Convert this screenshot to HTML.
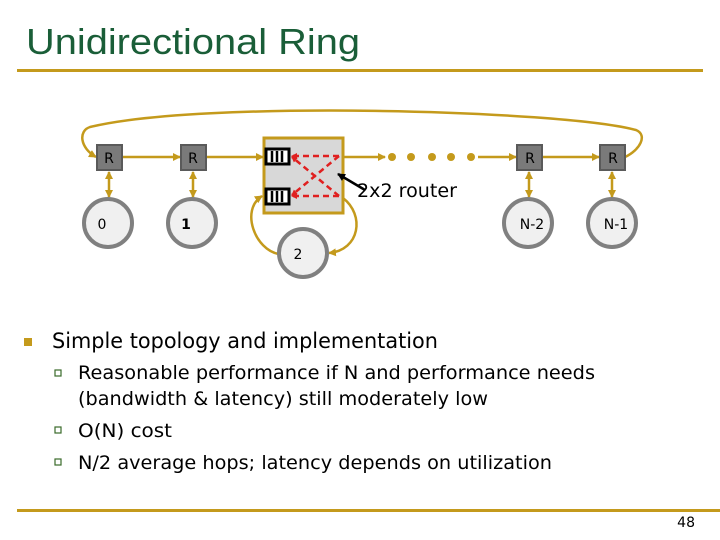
<!DOCTYPE html>
<html><head><meta charset="utf-8"><style>
body{margin:0;background:#fff;}
svg{display:block;}
</style></head><body>
<svg width="720" height="540" viewBox="0 0 720 540" xmlns="http://www.w3.org/2000/svg">
<defs>
<marker id="a" markerWidth="8" markerHeight="8" refX="7" refY="4" orient="auto" markerUnits="userSpaceOnUse"><path d="M0,0 L8,4 L0,8 z" fill="#c49a1c"/></marker>
<marker id="as" markerWidth="8" markerHeight="8" refX="7" refY="4" orient="auto-start-reverse" markerUnits="userSpaceOnUse"><path d="M0,0 L8,4 L0,8 z" fill="#c49a1c"/></marker>
<marker id="r" markerWidth="6" markerHeight="6" refX="5" refY="3" orient="auto" markerUnits="userSpaceOnUse"><path d="M0,0 L6,3 L0,6 z" fill="#e02020"/></marker>
<marker id="k" markerWidth="8" markerHeight="8" refX="7" refY="4" orient="auto" markerUnits="userSpaceOnUse"><path d="M0,0 L8,4 L0,8 z" fill="#000"/></marker>
</defs>
<text x="26" y="54" font-family="Liberation Sans, sans-serif" font-size="36" fill="#1a5e38" textLength="334" lengthAdjust="spacingAndGlyphs">Unidirectional Ring</text>
<rect x="17" y="69" width="686" height="3" fill="#c49a1c"/>
<rect x="17" y="509" width="703" height="3" fill="#c49a1c"/>
<g fill="none" stroke="#c49a1c" stroke-width="2.5">
<path d="M625,157 C640,150 648,135 636,130 C560,110 200,100 90,127 C78,131 80,148 96,157" marker-end="url(#a)"/>
<line x1="122" y1="157" x2="180" y2="157" marker-end="url(#a)"/>
<line x1="206" y1="157" x2="263" y2="157" marker-end="url(#a)"/>
<line x1="343" y1="157" x2="385" y2="157" marker-end="url(#a)"/>
<line x1="478" y1="157" x2="516" y2="157" marker-end="url(#a)"/>
<line x1="542" y1="157" x2="599" y2="157" marker-end="url(#a)"/>
<line x1="109" y1="172" x2="109" y2="197" marker-start="url(#as)" marker-end="url(#a)"/>
<line x1="193" y1="172" x2="193" y2="197" marker-start="url(#as)" marker-end="url(#a)"/>
<line x1="529" y1="172" x2="529" y2="197" marker-start="url(#as)" marker-end="url(#a)"/>
<line x1="612" y1="172" x2="612" y2="197" marker-start="url(#as)" marker-end="url(#a)"/>
<path d="M279,254 C255,250 240,210 262,196" marker-end="url(#a)"/>
<path d="M343,198 C365,215 360,250 329,253" marker-end="url(#a)"/>
</g>
<g fill="#c49a1c"><circle cx="392" cy="157" r="4"/><circle cx="411" cy="157" r="4"/><circle cx="432" cy="157" r="4"/><circle cx="451" cy="157" r="4"/><circle cx="471" cy="157" r="4"/></g>
<g fill="#7a7a7a" stroke="#5a5a5a" stroke-width="2">
<rect x="97" y="145" width="25" height="25"/><rect x="181" y="145" width="25" height="25"/>
<rect x="517" y="145" width="25" height="25"/><rect x="600" y="145" width="25" height="25"/>
</g>
<g font-family="DejaVu Sans, sans-serif" font-size="14" fill="#000" text-anchor="middle">
<text x="109" y="163">R</text><text x="193" y="163">R</text><text x="530" y="163">R</text><text x="613" y="163">R</text>
</g>
<g fill="#f0f0f0" stroke="#808080" stroke-width="4">
<circle cx="108" cy="223" r="24"/><circle cx="192" cy="223" r="24"/><circle cx="303" cy="253" r="24"/>
<circle cx="528" cy="223" r="24"/><circle cx="612" cy="223" r="24"/>
</g>
<g font-family="DejaVu Sans, sans-serif" font-size="14" fill="#000" text-anchor="middle">
<text x="102" y="229">0</text><text x="186" y="229" font-weight="bold">1</text><text x="298" y="259">2</text>
<text x="532" y="229">N-2</text><text x="616" y="229">N-1</text>
</g>
<rect x="264" y="138" width="79" height="75" fill="#d8d8d8" stroke="#c49a1c" stroke-width="3"/>
<g fill="#fff" stroke="#000" stroke-width="3"><rect x="266" y="149" width="23" height="15"/><rect x="266" y="189" width="23" height="15"/></g>
<g stroke="#000" stroke-width="2.5"><line x1="272" y1="151" x2="272" y2="162"/><line x1="277" y1="151" x2="277" y2="162"/><line x1="282" y1="151" x2="282" y2="162"/><line x1="272" y1="191" x2="272" y2="202"/><line x1="277" y1="191" x2="277" y2="202"/><line x1="282" y1="191" x2="282" y2="202"/></g>
<g stroke="#e02020" stroke-width="2.5" stroke-dasharray="6,4" fill="none">
<line x1="339" y1="156" x2="292" y2="156" marker-end="url(#r)"/>
<line x1="339" y1="196" x2="292" y2="196" marker-end="url(#r)"/>
<line x1="339" y1="156" x2="292" y2="195" marker-end="url(#r)"/>
<line x1="339" y1="196" x2="292" y2="157" marker-end="url(#r)"/>
</g>
<line x1="365" y1="190" x2="338" y2="174" stroke="#000" stroke-width="2.5" marker-end="url(#k)"/>
<text x="357" y="197" font-family="DejaVu Sans, sans-serif" font-size="19" fill="#000" textLength="100" lengthAdjust="spacingAndGlyphs">2x2 router</text>
<rect x="24" y="338" width="8" height="8" fill="#c49a1c"/>
<g font-family="DejaVu Sans, sans-serif" font-size="21" fill="#000">
<text x="52" y="348" textLength="386" lengthAdjust="spacingAndGlyphs">Simple topology and implementation</text>
</g>
<g fill="none" stroke="#3a6a2a" stroke-width="1.2">
<rect x="55" y="370" width="6" height="6"/><rect x="55" y="427" width="6" height="6"/><rect x="55" y="459" width="6" height="6"/>
</g>
<g font-family="DejaVu Sans, sans-serif" font-size="19" fill="#000">
<text x="78" y="379" textLength="517" lengthAdjust="spacingAndGlyphs">Reasonable performance if N and performance needs</text>
<text x="78" y="405" textLength="410" lengthAdjust="spacingAndGlyphs">(bandwidth &amp; latency) still moderately low</text>
<text x="78" y="437" textLength="94" lengthAdjust="spacingAndGlyphs">O(N) cost</text>
<text x="78" y="469" textLength="474" lengthAdjust="spacingAndGlyphs">N/2 average hops; latency depends on utilization</text>
</g>
<text x="695" y="527" font-family="DejaVu Sans, sans-serif" font-size="14" fill="#000" text-anchor="end">48</text>
</svg>
</body></html>
